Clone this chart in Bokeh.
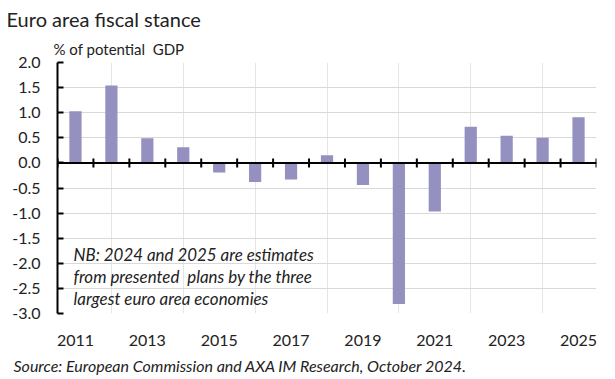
import math
from bokeh.plotting import figure
from bokeh.models import LinearAxis, FixedTicker, NumeralTickFormatter, Title, Range1d, Grid, ColumnDataSource, Span
from bokeh.core.properties import value
from bokeh.embed import file_html
from bokeh.resources import INLINE

# ---- data ----
years = list(range(2011, 2026))
stance = [1.03, 1.54, 0.49, 0.31, -0.19, -0.38, -0.33, 0.15, -0.44, -2.81, -0.97, 0.72, 0.54, 0.50, 0.91]
year_labels = [2011, 2013, 2015, 2017, 2019, 2021, 2023, 2025]
y_ticks = [-3.0, -2.5, -2.0, -1.5, -1.0, -0.5, 0.0, 0.5, 1.0, 1.5, 2.0]
note_lines = ["NB: 2024 and 2025 are estimates",
              "from presented\u00a0 plans by the three",
              "largest euro area economies"]
title_text = "Euro area fiscal stance"
subtitle_text = "% of potential\u00a0 GDP"
source_text = "Source: European Commission and AXA IM Research, October 2024."

FONT = "Lato"
BAR = "#9490C0"
TXT = "#222222"

p = figure(width=615, height=379,
           x_range=Range1d(years[0] - 0.5, years[-1] + 0.5),
           y_range=Range1d(y_ticks[0], y_ticks[-1]),
           output_backend="svg", toolbar_location=None,
           x_axis_location=None, y_axis_location=None,
           min_border_left=57, min_border_right=19,
           min_border_top=62, min_border_bottom=64)
p.outline_line_color = None
p.background_fill_color = "white"
p.border_fill_color = "white"

# grid
grid = Grid(dimension=1, ticker=FixedTicker(ticks=y_ticks),
            grid_line_color="#d9d9d9", grid_line_width=1)
p.add_layout(grid)

# bars
src = ColumnDataSource(dict(x=years, top=stance))
p.vbar(x="x", top="top", bottom=0, width=0.34, source=src, fill_color=BAR, line_color=None)

# y axis
yax = LinearAxis(ticker=FixedTicker(ticks=y_ticks),
                 formatter=NumeralTickFormatter(format="0.0"),
                 axis_line_color="black", axis_line_width=2,
                 major_tick_in=6, major_tick_out=0, major_tick_line_width=2,
                 minor_tick_line_color=None,
                 major_label_standoff=17,
                 major_label_text_font=FONT, major_label_text_font_size="16px",
                 major_label_text_color=TXT)
p.add_layout(yax, "left")

# x labels axis at bottom
xlab = LinearAxis(ticker=FixedTicker(ticks=year_labels),
                  axis_line_color=None, major_tick_line_color=None,
                  minor_tick_line_color=None, major_label_standoff=15,
                  major_label_text_font=FONT, major_label_text_font_size="16px",
                  major_label_text_color=TXT)
p.add_layout(xlab, "below")

# zero line with category boundary ticks
p.add_layout(Span(location=0, dimension="width", line_color="black", line_width=2))
bounds = [y - 0.5 for y in years] + [years[-1] + 0.5]
p.scatter(x=bounds, y=[0] * len(bounds), marker="dash", angle=math.pi / 2, size=9,
          line_color="black", line_width=2)

# note text
note_y = [-1.83, -2.26, -2.70]
nsrc = ColumnDataSource(dict(x=[years[0] - 0.055] * 3, y=note_y, t=note_lines))
p.text(x="x", y="y", text="t", source=nsrc, text_font=value(FONT),
       text_font_style="italic", text_font_size="16.9px", text_color=TXT,
       text_baseline="middle", text_align="left")

# titles
sub = Title(text=subtitle_text, align="left", offset=-4, text_font=FONT,
            text_font_style="normal", text_font_size="15px", text_color=TXT,
            standoff=9)
p.add_layout(sub, "above")
main = Title(text=title_text, align="left", offset=-51, text_font=FONT,
             text_font_style="normal", text_font_size="20px", text_color=TXT,
             standoff=5)
p.add_layout(main, "above")

srcnote = Title(text=source_text, align="left", offset=-44, text_font=FONT,
                text_font_style="italic", text_font_size="16px", text_color=TXT)
p.add_layout(srcnote, "below")

open("out.html", "w").write(file_html(p, INLINE))
